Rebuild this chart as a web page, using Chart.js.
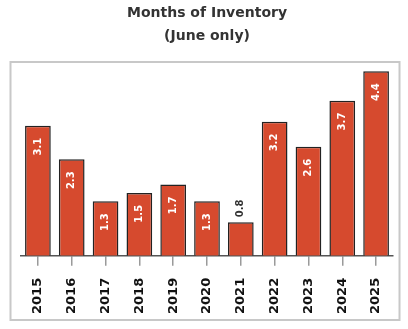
<!DOCTYPE html>
<html>
<head>
<meta charset="utf-8">
<script src="https://cdn.jsdelivr.net/npm/chart.js@4"></script>
<style>
  body { margin: 0; background: #fff; }
  #wrap { width: 408px; height: 329px; }
</style>
</head>
<body>
<div id="wrap"><canvas id="chart" width="408" height="329"></canvas></div>
<script>
const years = ['2015', '2016', '2017', '2018', '2019', '2020', '2021', '2022', '2023', '2024', '2025'];
const months = [3.1, 2.3, 1.3, 1.5, 1.7, 1.3, 0.8, 3.2, 2.6, 3.7, 4.4];
const titleLines = ['Months of Inventory', '(June only)'];

const FONT = '"DejaVu Sans", sans-serif';

// grey frame around the plot, like the original
const framePlugin = {
    id: 'frame',
    beforeDraw(chart) {
        const ctx = chart.ctx;
        ctx.save();
        ctx.strokeStyle = '#c8c8c8';
        ctx.lineWidth = 2;
        ctx.strokeRect(10.5, 62, 389, 258);
        ctx.restore();
    }
};

// rotated value labels, inside the bar unless the bar is short
const valueLabels = {
    id: 'valueLabels',
    afterDatasetsDraw(chart) {
        const ctx = chart.ctx;
        const meta = chart.getDatasetMeta(0);
        ctx.save();
        ctx.font = 'bold 10px ' + FONT;
        ctx.textBaseline = 'middle';
        meta.data.forEach((bar, i) => {
            const v = months[i];
            ctx.save();
            if (v >= 1) {
                ctx.translate(bar.x, bar.y + 12);
                ctx.rotate(-Math.PI / 2);
                ctx.textAlign = 'right';
                ctx.fillStyle = '#ffffff';
            } else {
                ctx.translate(bar.x, bar.y - 5);
                ctx.rotate(-Math.PI / 2);
                ctx.textAlign = 'left';
                ctx.fillStyle = '#333333';
            }
            ctx.fillText(v.toFixed(1), 0, 0);
            ctx.restore();
        });
        ctx.restore();
    }
};

new Chart(document.getElementById('chart'), {
    type: 'bar',
    data: {
        labels: years,
        datasets: [{
            data: months,
            backgroundColor: '#d64a2e',
            borderColor: '#222222',
            borderWidth: 1.5,
            borderSkipped: 'start',
            barPercentage: 0.76,
            categoryPercentage: 1,
        }]
    },
    options: {
        responsive: false,
        animation: false,
        layout: {
            padding: { left: 21, right: 15, top: 0, bottom: 3 }
        },
        plugins: {
            legend: { display: false },
            tooltip: { enabled: false },
            title: {
                display: true,
                text: titleLines,
                color: '#333333',
                font: { family: FONT, size: 14, weight: 'bold', lineHeight: 1.64 },
                padding: { top: 1.5, bottom: 15.5 }
            }
        },
        scales: {
            x: {
                grid: {
                    offset: false,
                    drawOnChartArea: false,
                    drawTicks: true,
                    tickLength: 10,
                    color: '#9a9a9a',
                    lineWidth: 1.5
                },
                border: { display: true, color: '#555555', width: 1.5 },
                ticks: {
                    autoSkip: false,
                    minRotation: 90,
                    maxRotation: 90,
                    padding: 12,
                    color: '#111111',
                    font: { family: FONT, size: 13, weight: 'bold' }
                }
            },
            y: {
                display: false,
                min: 0,
                max: 4.6
            }
        }
    },
    plugins: [framePlugin, valueLabels]
});
</script>
</body>
</html>
